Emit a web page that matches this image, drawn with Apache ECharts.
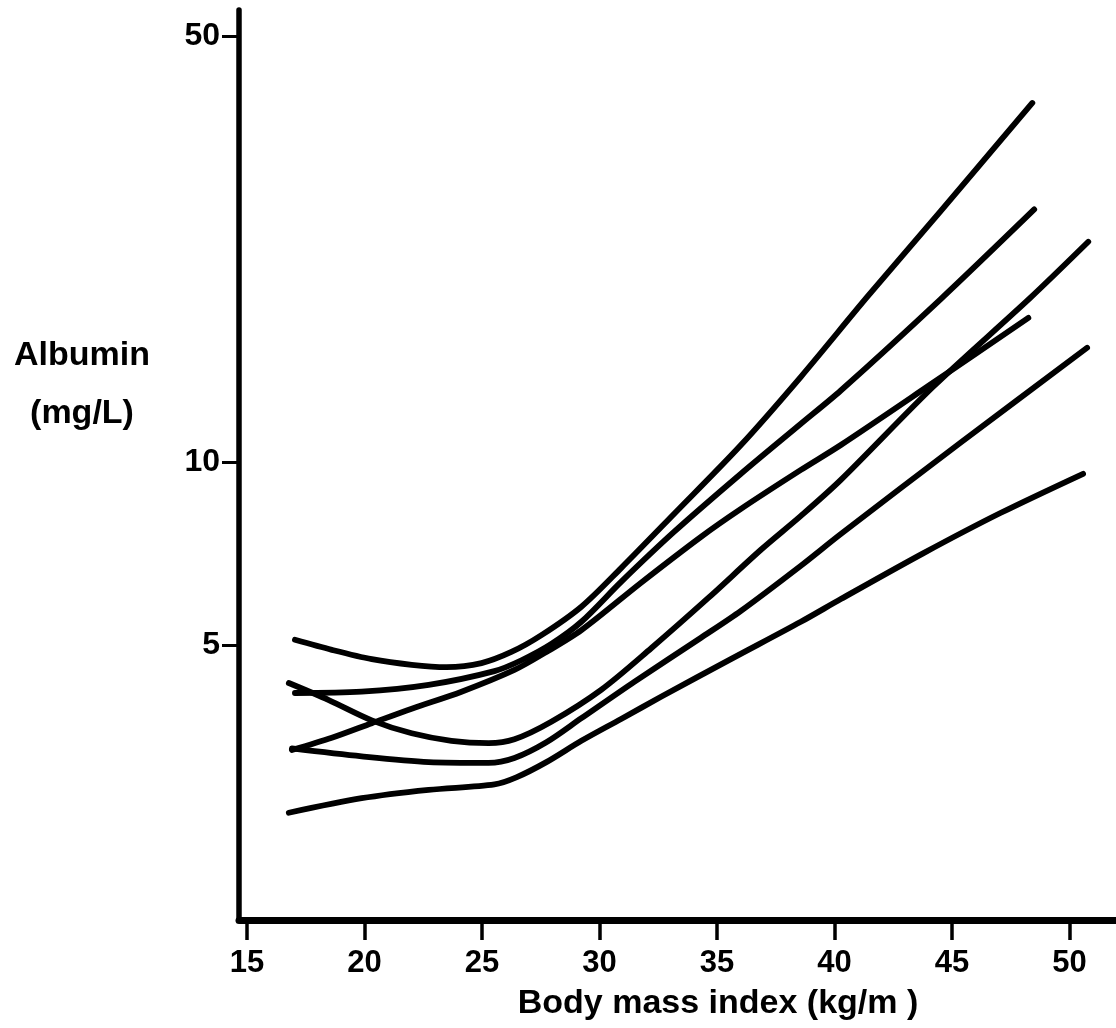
<!DOCTYPE html>
<html><head><meta charset="utf-8">
<script src="https://cdn.jsdelivr.net/npm/echarts@6/dist/echarts.min.js"></script>
<style>html,body{margin:0;padding:0;background:#fff}#c{width:1116px;height:1028px}</style>
</head><body><div id="c"></div>
<script>
// Tick labels
const xTicks = [15, 20, 25, 30, 35, 40, 45, 50];
const yTicks = [5, 10, 50];

// Curves: body mass index (x) and albumin mg/L (y)
const bmiA = [17.04, 18.61, 20.31, 22.01, 23.49, 24.98, 26.25, 27.53, 29.23, 30.92, 33.17, 36.02, 38.57, 41.41, 44.51, 48.42];
const albA = [5.10, 4.91, 4.74, 4.64, 4.60, 4.67, 4.87, 5.19, 5.78, 6.69, 8.21, 10.66, 13.8, 18.7, 25.8, 38.9];

const bmiB = [17.04, 19.88, 22.73, 25.53, 26.68, 27.95, 29.23, 30.92, 33.17, 36.02, 38.57, 40.27, 44.51, 48.50];
const albB = [4.17, 4.19, 4.30, 4.53, 4.72, 5.02, 5.46, 6.35, 7.67, 9.56, 11.55, 13.1, 18.5, 26.0];

const bmiC = [16.91, 18.61, 20.31, 22.01, 24.13, 26.38, 27.74, 29.23, 31.77, 34.32, 36.02, 38.57, 40.27, 43.96, 48.25];
const albC = [3.36, 3.52, 3.72, 3.93, 4.19, 4.55, 4.87, 5.29, 6.33, 7.53, 8.37, 9.70, 10.66, 13.3, 17.25];

const bmiD = [16.78, 18.48, 20.31, 22.01, 23.70, 25.28, 26.38, 27.95, 30.07, 32.20, 34.62, 36.87, 38.57, 40.27, 44.21, 48.33, 50.80];
const albD = [4.33, 4.06, 3.76, 3.58, 3.48, 3.45, 3.50, 3.74, 4.22, 4.94, 5.97, 7.17, 8.15, 9.34, 13.3, 18.6, 23.0];

const bmiE = [16.91, 19.88, 22.73, 25.28, 26.38, 27.74, 29.23, 31.48, 34.32, 36.02, 38.57, 40.27, 45.36, 50.75];
const albE = [3.38, 3.28, 3.21, 3.20, 3.26, 3.46, 3.79, 4.35, 5.14, 5.69, 6.75, 7.61, 10.75, 15.4];

const bmiF = [16.78, 19.88, 22.73, 25.53, 26.46, 27.74, 29.23, 30.92, 32.62, 35.59, 38.57, 40.27, 43.79, 47.06, 50.58];
const albF = [2.65, 2.80, 2.89, 2.95, 3.03, 3.21, 3.48, 3.78, 4.11, 4.74, 5.46, 5.95, 7.08, 8.24, 9.56];

const curves = [[bmiA, albA], [bmiB, albB], [bmiC, albC], [bmiD, albD], [bmiE, albE], [bmiF, albF]];

const FONT = '"Liberation Sans", Arial, Helvetica, sans-serif';
const chart = echarts.init(document.getElementById('c'), null, {renderer: 'canvas'});

const series = curves.map(([xs, ys]) => ({
  type: 'line',
  data: xs.map((x, i) => [x, ys[i]]),
  showSymbol: false,
  smooth: 0.3,
  silent: true,
  lineStyle: {color: '#000', width: 5.8, cap: 'round', join: 'round'}
}));

chart.setOption({
  animation: false,
  backgroundColor: '#fff',
  grid: {left: 239, right: 0, top: 10, bottom: 108, containLabel: false},
  xAxis: {
    type: 'value', min: 14.66, max: 51.98,
    axisLine: {show: true, lineStyle: {color: '#000', width: 7}},
    axisTick: {show: true, customValues: xTicks, length: 20, lineStyle: {color: '#000', width: 3.5}},
    axisLabel: {customValues: xTicks, margin: 28, color: '#000', fontFamily: FONT, fontWeight: 'bold', fontSize: 31},
    splitLine: {show: false}
  },
  yAxis: {
    type: 'log', logBase: 10, min: 1.766, max: 55.3,
    axisLine: {show: true, lineStyle: {color: '#000', width: 5.5}},
    axisTick: {show: true, customValues: yTicks, length: 17, lineStyle: {color: '#000', width: 3}},
    axisLabel: {customValues: yTicks, margin: 19, color: '#000', fontFamily: FONT, fontWeight: 'bold', fontSize: 32},
    splitLine: {show: false}
  },
  graphic: [
    {type: 'text', x: 82, y: 356, style: {text: 'Albumin', align: 'center', verticalAlign: 'middle', fill: '#000', font: 'bold 34px ' + FONT}},
    {type: 'text', x: 82, y: 414, style: {text: '(mg/L)', align: 'center', verticalAlign: 'middle', fill: '#000', font: 'bold 34px ' + FONT}},
    {type: 'text', x: 718, y: 1004, style: {text: 'Body mass index (kg/m )', align: 'center', verticalAlign: 'middle', fill: '#000', font: 'bold 34px ' + FONT}}
  ],
  series: series
});
</script>
</body></html>
